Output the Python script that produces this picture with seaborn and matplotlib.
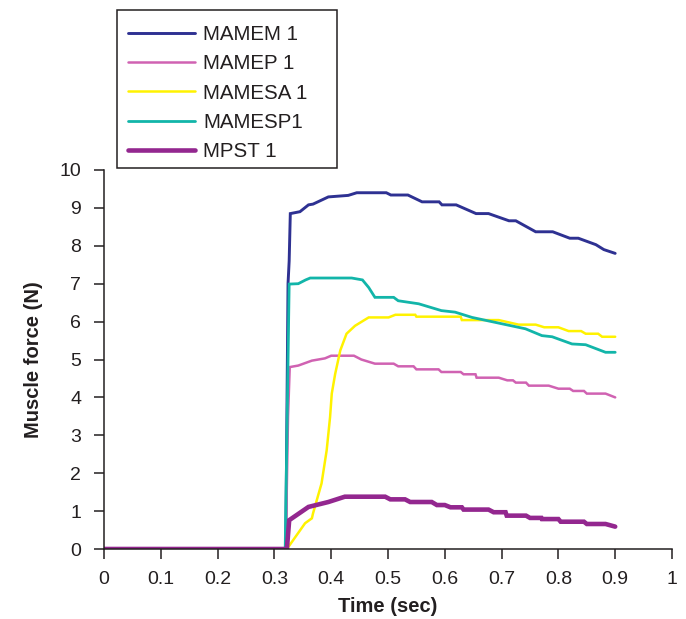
import matplotlib
matplotlib.use("Agg")
import matplotlib.pyplot as plt
from matplotlib.patches import Rectangle
import seaborn as sns
import pandas as pd

# ---- data ----
series_names = ["MAMEM 1", "MAMEP 1", "MAMESA 1", "MAMESP1", "MPST 1"]

mamem_t = [0, 0.32, 0.324, 0.326, 0.328, 0.345, 0.36, 0.368, 0.395, 0.43, 0.445, 0.497,
           0.505, 0.535, 0.56, 0.59, 0.595, 0.62, 0.655, 0.677, 0.713, 0.725, 0.76, 0.79,
           0.82, 0.835, 0.866, 0.88, 0.9]
mamem_f = [0, 0, 7.0, 7.6, 8.85, 8.9, 9.08, 9.1, 9.29, 9.33, 9.40, 9.40,
           9.34, 9.34, 9.16, 9.16, 9.08, 9.08, 8.85, 8.85, 8.66, 8.66, 8.37, 8.37,
           8.2, 8.2, 8.03, 7.9, 7.8]

mamep_t = [0, 0.32, 0.324, 0.327, 0.342, 0.366, 0.389, 0.4, 0.44, 0.453, 0.477, 0.51,
           0.518, 0.545, 0.55, 0.589, 0.594, 0.628, 0.633, 0.654, 0.656, 0.695, 0.71,
           0.72, 0.725, 0.743, 0.748, 0.783, 0.8, 0.82, 0.826, 0.845, 0.85, 0.883, 0.9]
mamep_f = [0, 0, 3.5, 4.8, 4.84, 4.97, 5.03, 5.1, 5.1, 5.0, 4.89, 4.89,
           4.82, 4.82, 4.74, 4.74, 4.67, 4.67, 4.61, 4.61, 4.52, 4.52, 4.45,
           4.45, 4.39, 4.39, 4.31, 4.31, 4.23, 4.23, 4.17, 4.17, 4.1, 4.1, 4.0]

mamesa_t = [0, 0.322, 0.354, 0.366, 0.368, 0.383, 0.392, 0.398, 0.401, 0.407, 0.416,
            0.427, 0.442, 0.466, 0.501, 0.513, 0.548, 0.55, 0.628, 0.63, 0.695, 0.73,
            0.76, 0.775, 0.8, 0.818, 0.84, 0.848, 0.87, 0.877, 0.9]
mamesa_f = [0, 0, 0.68, 0.81, 0.94, 1.73, 2.6, 3.48, 4.1, 4.62, 5.24,
            5.68, 5.89, 6.11, 6.11, 6.18, 6.18, 6.13, 6.13, 6.04, 6.04, 5.92,
            5.92, 5.85, 5.85, 5.75, 5.75, 5.68, 5.68, 5.6, 5.6]

mamesp_t = [0, 0.319, 0.326, 0.342, 0.355, 0.363, 0.436, 0.455, 0.466, 0.477, 0.51,
            0.518, 0.554, 0.594, 0.618, 0.648, 0.695, 0.742, 0.771, 0.789, 0.824,
            0.848, 0.883, 0.9]
mamesp_f = [0, 0, 6.99, 7.0, 7.1, 7.15, 7.15, 7.1, 6.9, 6.64, 6.64,
            6.55, 6.47, 6.29, 6.25, 6.11, 5.96, 5.81, 5.63, 5.6, 5.41,
            5.39, 5.19, 5.19]

mpst_t = [0, 0.322, 0.326, 0.36, 0.395, 0.424, 0.495, 0.504, 0.53, 0.539, 0.577, 0.586,
          0.6, 0.61, 0.63, 0.633, 0.677, 0.686, 0.707, 0.709, 0.743, 0.75, 0.77, 0.771,
          0.8, 0.804, 0.845, 0.85, 0.883, 0.9]
mpst_f = [0, 0, 0.76, 1.11, 1.24, 1.38, 1.38, 1.31, 1.31, 1.24, 1.24, 1.16,
          1.16, 1.1, 1.1, 1.04, 1.04, 0.97, 0.97, 0.88, 0.88, 0.82, 0.82, 0.79,
          0.79, 0.72, 0.72, 0.66, 0.66, 0.59]

x_ticks = [0, 0.1, 0.2, 0.3, 0.4, 0.5, 0.6, 0.7, 0.8, 0.9, 1]
x_tick_labels = ["0", "0.1", "0.2", "0.3", "0.4", "0.5", "0.6", "0.7", "0.8", "0.9", "1"]
y_ticks = list(range(0, 11))

# ---- styling ----
colors = ["#2e3192", "#d062b2", "#fff200", "#12b5a9", "#93278f"]
widths = [2.1, 1.8, 1.8, 2.0, 3.3]
ink = "#231f20"

sns.set_style("ticks")
plt.rcParams["font.family"] = ["Liberation Sans", "DejaVu Sans"]

data = [(mamem_t, mamem_f), (mamep_t, mamep_f), (mamesa_t, mamesa_f),
        (mamesp_t, mamesp_f), (mpst_t, mpst_f)]
frames = []
for name, (t, f) in zip(series_names, data):
    frames.append(pd.DataFrame({"Time": t, "Force": f, "Series": name}))
df = pd.concat(frames, ignore_index=True)

W, H = 686, 619
fig = plt.figure(figsize=(W / 100, H / 100), dpi=100)
ax = fig.add_axes([104 / W, 1 - 549 / H, (672 - 104) / W, (549 - 170) / H])

for name, c, lw in zip(series_names, colors, widths):
    sub = df[df["Series"] == name]
    sns.lineplot(data=sub, x="Time", y="Force", ax=ax, color=c, linewidth=lw,
                 label=name, sort=False, estimator=None, solid_joinstyle="miter")

ax.set_xlim(0, 1)
ax.set_ylim(0, 10)
ax.set_xticks(x_ticks)
ax.set_xticklabels(x_tick_labels)
ax.set_yticks(y_ticks)
ax.tick_params(axis="both", direction="out", length=7, width=1.1, labelsize=14,
               colors=ink)
ax.tick_params(axis="y", pad=9.5)
ax.tick_params(axis="x", pad=9)
for side in ["left", "bottom"]:
    ax.spines[side].set_linewidth(1.1)
    ax.spines[side].set_color(ink)
sns.despine(ax=ax)

ax.set_xlabel("Time (sec)", fontsize=14.5, fontweight="bold", color=ink, labelpad=6)
ax.set_ylabel("Muscle force (N)", fontsize=14.5, fontweight="bold", color=ink, labelpad=12)

leg = ax.legend(loc="upper left", bbox_to_anchor=(128 / W, 1 - 25 / H),
                bbox_transform=fig.transFigure, borderaxespad=0, frameon=False,
                fontsize=14.8, handlelength=3.25, handletextpad=0.4,
                labelspacing=0.5, borderpad=0)
for txt in leg.get_texts():
    txt.set_color(ink)

fig.patches.append(Rectangle((117 / W, 1 - 168 / H), 220 / W, 158 / H,
                             transform=fig.transFigure, fill=False,
                             edgecolor=ink, linewidth=1.1, figure=fig))

fig.savefig("out.png", dpi=100)
